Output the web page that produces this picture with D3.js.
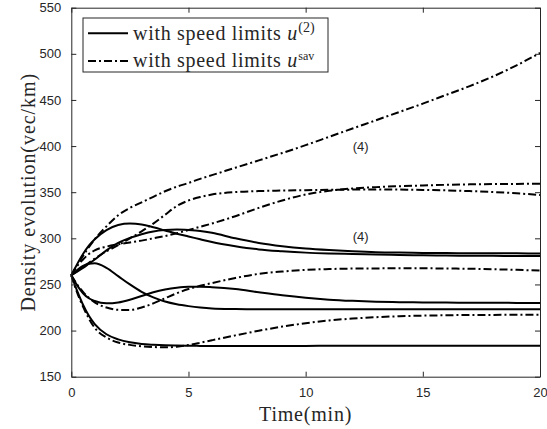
<!DOCTYPE html>
<html>
<head>
<meta charset="utf-8">
<script src="https://cdn.jsdelivr.net/npm/d3@7/dist/d3.min.js"></script>
<style>
  html, body { margin: 0; padding: 0; background: #fff; }
  svg { display: block; }
</style>
</head>
<body>
<script>
// Time grid (minutes) shared by all density curves
const time = [0, 0.25, 0.5, 0.75, 1, 1.5, 2, 2.5, 3, 3.5, 4, 4.5, 5, 5.5, 6, 7, 8, 9, 10, 11, 12, 13, 14, 15, 16, 17, 18, 19, 20];

// Density (vec/km) with speed limits u^(2) — solid lines
const u2Series = [
  [260, 272, 283, 292, 299, 309, 314.5, 316, 315, 312, 308.5, 305, 302, 299, 296, 291.5, 288, 286, 284.5, 283.6, 283, 282.5, 282, 281.6, 281.3, 281.1, 281, 280.9, 280.8],
  [260, 264, 268, 272.5, 277, 287, 295, 300.5, 304.5, 307.5, 309, 309.5, 309, 308, 306, 300, 295, 291.5, 289, 287.3, 286, 285, 284.5, 284.2, 284, 283.9, 283.8, 283.7, 283.6],
  [260, 265.5, 270, 272.5, 273, 268, 259, 250, 242, 236, 231.5, 228.5, 226.5, 225, 224, 223.3, 223, 223, 223, 223, 223, 223.1, 223.1, 223.2, 223.2, 223.2, 223.2, 223.2, 223.2],
  [260, 249, 240.5, 235, 232, 229.5, 230.5, 233.5, 237.5, 241.5, 244.5, 246.5, 247.5, 247.5, 247, 245, 241.5, 238.2, 235.5, 233.5, 232.2, 231.3, 230.8, 230.5, 230.3, 230.2, 230.1, 230, 229.9],
  [260, 243, 228, 216, 207, 196, 190.5, 187.3, 185.5, 184.6, 184, 183.7, 183.5, 183.4, 183.3, 183.2, 183.2, 183.3, 183.4, 183.5, 183.5, 183.6, 183.6, 183.6, 183.6, 183.6, 183.6, 183.6, 183.6]
];

// Density (vec/km) with speed limits u^sav — dash-dot lines
const usavSeries = [
  [260, 271, 281, 290.5, 299, 313, 325, 333, 339, 345, 351, 356, 360, 364.5, 368.5, 376.5, 384.5, 392.5, 401, 410, 419, 428, 437, 446, 455.5, 465, 475.5, 487.5, 501],
  [260, 264.5, 269, 273.5, 278, 286, 292.5, 300, 307.5, 316, 325.5, 335, 341, 344.8, 347.5, 350.2, 351.2, 351.8, 352.2, 352.6, 352.8, 352.9, 352.8, 352.5, 352, 351.2, 350.2, 348.8, 347],
  [260, 270, 277, 283, 287, 291, 293.5, 295.5, 297.5, 300, 302.5, 305.5, 309, 312.5, 316, 324, 333, 341, 347.5, 351.5, 354, 355.5, 356.5, 357.3, 358, 358.5, 358.8, 359, 359.2],
  [260, 250, 242, 235.5, 230.5, 225, 222.5, 222.3, 225, 229.5, 235, 240.5, 245, 248.5, 251.5, 257, 261.5, 264, 265.8, 266.7, 267.2, 267.4, 267.5, 267.5, 267.3, 267, 266.5, 265.8, 265],
  [260, 241, 226, 213, 203, 192.5, 187, 184.5, 183, 182.2, 181.8, 182.5, 184.3, 186.8, 189.5, 194.8, 199.8, 204.3, 208, 211, 213, 214.5, 215.5, 216.2, 216.6, 216.9, 217, 217.1, 217.1]
];

// Axis ticks
const xTicks = [0, 5, 10, 15, 20];
const yTicks = [150, 200, 250, 300, 350, 400, 450, 500, 550];

// Curve annotations
const annotations = [
  { t: 12.35, v: 399.7, text: "(4)" },
  { t: 12.35, v: 302.4, text: "(4)" }
];

const dashDot = "8,3,2,3";
const legendEntries = [
  { dash: null, text: "with speed limits ", sym: "u", sup: "(2)" },
  { dash: dashDot, text: "with speed limits ", sym: "u", sup: "sav" }
];

const W = 547, H = 429;
const plot = { left: 71.3, right: 540, top: 7.7, bottom: 376.7 };
const axisColor = "#262626";
const serif = "'Liberation Serif', 'Times New Roman', serif";
const sans = "'Liberation Sans', Arial, Helvetica, sans-serif";

const svg = d3.select("body").append("svg")
  .attr("width", W).attr("height", H)
  .attr("viewBox", `0 0 ${W} ${H}`);

svg.append("rect").attr("width", W).attr("height", H).attr("fill", "#fff");

const x = d3.scaleLinear().domain([0, 20]).range([plot.left, plot.right]);
const y = d3.scaleLinear().domain([150, 550]).range([plot.bottom, plot.top]);

const line = d3.line()
  .x((d, i) => x(time[i]))
  .y(d => y(d))
  .curve(d3.curveMonotoneX);

const curves = svg.append("g").attr("fill", "none").attr("stroke", "#000")
  .attr("stroke-width", 2).attr("stroke-linejoin", "round");

curves.selectAll("path.u2").data(u2Series).join("path")
  .attr("class", "u2").attr("d", line);

curves.selectAll("path.usav").data(usavSeries).join("path")
  .attr("class", "usav").attr("d", line)
  .attr("stroke-dasharray", dashDot);

// Annotations
svg.selectAll("text.note").data(annotations).join("text")
  .attr("class", "note")
  .attr("x", d => x(d.t)).attr("y", d => y(d.v))
  .attr("dy", "0.35em")
  .attr("text-anchor", "middle")
  .attr("font-family", sans).attr("font-size", 13)
  .attr("fill", axisColor)
  .text(d => d.text);

// Axes (box with inward ticks on all sides)
const tickLen = 5;
function styleAxis(g) {
  g.selectAll("path.domain").attr("stroke", axisColor).attr("stroke-width", 1);
  g.selectAll(".tick line").attr("stroke", axisColor).attr("stroke-width", 1);
  g.selectAll(".tick text").attr("fill", axisColor)
    .attr("font-family", sans).attr("font-size", 13);
}

svg.append("g").attr("transform", `translate(0,${plot.bottom})`)
  .call(d3.axisBottom(x).tickValues(xTicks).tickSizeInner(-tickLen).tickSizeOuter(0).tickPadding(11))
  .call(styleAxis);

svg.append("g").attr("transform", `translate(0,${plot.top})`)
  .call(d3.axisTop(x).tickValues(xTicks).tickSizeInner(-tickLen).tickSizeOuter(0).tickFormat(""))
  .call(styleAxis);

svg.append("g").attr("transform", `translate(${plot.left},0)`)
  .call(d3.axisLeft(y).tickValues(yTicks).tickSizeInner(-tickLen).tickSizeOuter(0).tickPadding(10))
  .call(styleAxis);

svg.append("g").attr("transform", `translate(${plot.right},0)`)
  .call(d3.axisRight(y).tickValues(yTicks).tickSizeInner(-tickLen).tickSizeOuter(0).tickFormat(""))
  .call(styleAxis);

// Axis titles
svg.append("text")
  .attr("x", (plot.left + plot.right) / 2).attr("y", 421)
  .attr("text-anchor", "middle")
  .attr("font-family", serif).attr("font-size", 20)
  .attr("letter-spacing", 0.8)
  .attr("fill", axisColor)
  .text("Time(min)");

svg.append("text")
  .attr("transform", `translate(35,${(plot.top + plot.bottom) / 2}) rotate(-90)`)
  .attr("text-anchor", "middle")
  .attr("font-family", serif).attr("font-size", 20)
  .attr("letter-spacing", 0.95)
  .attr("fill", axisColor)
  .text("Density evolution(vec/km)");

// Legend
const legend = svg.append("g");
legend.append("rect")
  .attr("x", 83).attr("y", 18).attr("width", 245).attr("height", 54)
  .attr("fill", "#fff").attr("stroke", axisColor).attr("stroke-width", 1);

const rows = legend.selectAll("g.row").data(legendEntries).join("g")
  .attr("class", "row")
  .attr("transform", (d, i) => `translate(0,${33.3 + i * 27.7})`);

rows.append("line")
  .attr("x1", 88).attr("x2", 128).attr("y1", 0).attr("y2", 0)
  .attr("stroke", "#000").attr("stroke-width", 2)
  .attr("stroke-dasharray", d => d.dash);

const label = rows.append("text")
  .attr("x", 133).attr("y", 6.3)
  .attr("font-family", serif).attr("font-size", 20)
  .attr("fill", axisColor);

label.append("tspan").attr("letter-spacing", 0.7).text(d => d.text);
label.append("tspan").attr("font-style", "italic").text(d => d.sym);
label.append("tspan")
  .attr("dy", d => d.sup === "sav" ? -7 : -8)
  .attr("dx", 1)
  .attr("font-size", d => d.sup === "sav" ? 12 : 14)
  .text(d => d.sup);
</script>
</body>
</html>
